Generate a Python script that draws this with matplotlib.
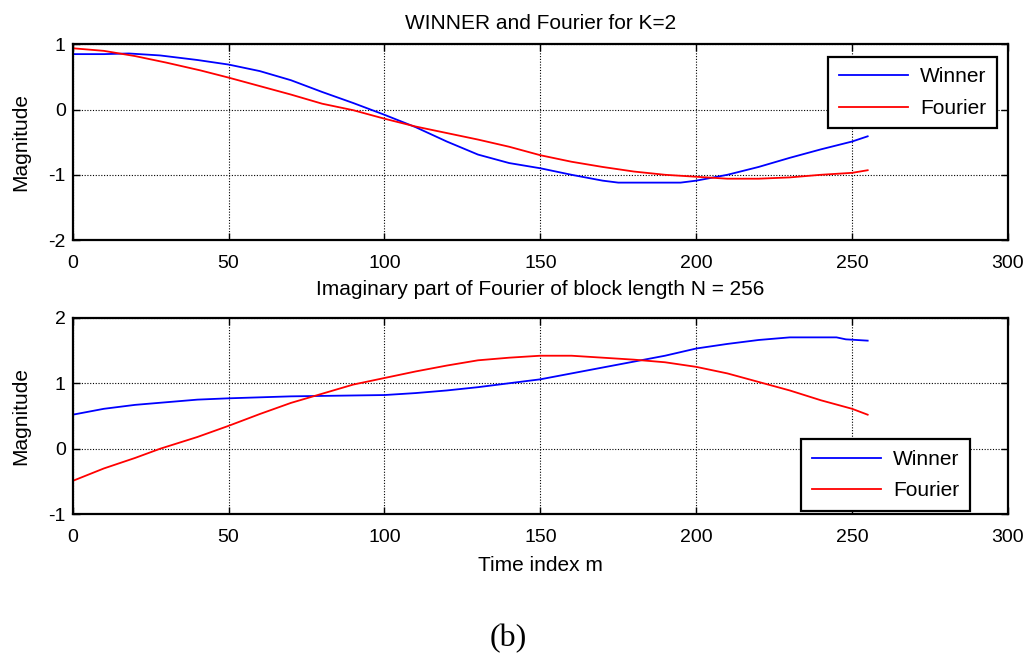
import matplotlib
matplotlib.use("Agg")
import matplotlib.pyplot as plt

# ---- data ----
top_winner_x = [0, 10, 18, 28, 40, 50, 60, 70, 80, 90, 100, 110, 120, 130, 140, 150,
                160, 170, 175, 195, 200, 210, 220, 230, 240, 250, 255]
top_winner_y = [0.85, 0.85, 0.86, 0.83, 0.76, 0.69, 0.59, 0.45, 0.27, 0.10, -0.08, -0.27,
                -0.49, -0.69, -0.82, -0.90, -1.00, -1.09, -1.12, -1.12, -1.09, -1.00,
                -0.88, -0.74, -0.61, -0.49, -0.41]

top_fourier_x = [0, 10, 20, 30, 41, 50, 60, 70, 80, 90, 100, 110, 120, 130, 140, 150,
                 160, 170, 180, 190, 200, 210, 220, 230, 240, 250, 255]
top_fourier_y = [0.94, 0.90, 0.82, 0.72, 0.60, 0.49, 0.36, 0.23, 0.09, -0.01, -0.14,
                 -0.26, -0.36, -0.46, -0.57, -0.70, -0.80, -0.88, -0.95, -1.00, -1.03,
                 -1.06, -1.06, -1.04, -1.00, -0.97, -0.93]

bot_winner_x = [0, 10, 20, 30, 40, 50, 70, 100, 110, 120, 130, 140, 150, 160, 170, 180,
                190, 200, 210, 220, 230, 245, 248, 255]
bot_winner_y = [0.52, 0.61, 0.67, 0.71, 0.75, 0.77, 0.80, 0.82, 0.85, 0.89, 0.94, 1.00,
                1.06, 1.15, 1.24, 1.33, 1.42, 1.53, 1.60, 1.66, 1.70, 1.70, 1.67, 1.65]

bot_fourier_x = [0, 10, 20, 28, 40, 50, 60, 70, 80, 90, 100, 110, 120, 130, 140, 150,
                 160, 170, 180, 190, 200, 210, 220, 230, 240, 250, 255]
bot_fourier_y = [-0.49, -0.30, -0.14, 0.00, 0.18, 0.35, 0.53, 0.70, 0.84, 0.98, 1.08,
                 1.18, 1.27, 1.35, 1.39, 1.42, 1.42, 1.39, 1.36, 1.32, 1.25, 1.15, 1.02,
                 0.89, 0.74, 0.61, 0.52]

x_ticks = [0, 50, 100, 150, 200, 250, 300]
top_y_ticks = [-2, -1, 0, 1]
bot_y_ticks = [-1, 0, 1, 2]
labels = ["Winner", "Fourier"]

plt.rcParams['font.family'] = ['Liberation Sans', 'DejaVu Sans']
plt.rcParams['font.size'] = 15
plt.rcParams['axes.unicode_minus'] = False

fig = plt.figure(figsize=(10.30, 6.54), dpi=100)
ax1 = fig.add_axes([0.0706, 0.633, 0.908, 0.2992])
ax2 = fig.add_axes([0.0706, 0.2136, 0.908, 0.3006])


def style(ax, yticks):
    ax.set_xlim(0, 300)
    ax.set_ylim(yticks[0], yticks[-1])
    ax.set_xticks(x_ticks)
    ax.set_yticks(yticks)
    ax.grid(True, color='black', linestyle=(0, (1, 1.5)), linewidth=0.8)
    ax.tick_params(direction='in', length=5, width=1, top=True, right=True,
                   labelsize=14, colors='black')
    ax.tick_params(axis='x', pad=10.5)
    ax.tick_params(axis='y', pad=5)
    for s in ax.spines.values():
        s.set_linewidth(1.6)
        s.set_color('black')
    ax.set_ylabel("Magnitude", fontsize=15, labelpad=13)


def legend(ax, loc, anchor):
    leg = ax.legend(loc=loc, bbox_to_anchor=anchor, fontsize=15, borderaxespad=0,
                    handlelength=3.35, handletextpad=0.55, labelspacing=0.6,
                    borderpad=0.5, fancybox=False, framealpha=1, edgecolor='black')
    leg.get_frame().set_linewidth(1.6)
    return leg


ax1.plot(top_winner_x, top_winner_y, color='#0000ff', lw=1.3, label=labels[0])
ax1.plot(top_fourier_x, top_fourier_y, color='#ff0000', lw=1.3, label=labels[1])
style(ax1, top_y_ticks)
ax1.set_title("WINNER and Fourier for K=2", fontsize=15, pad=11)
legend(ax1, 'upper right', (0.988, 0.935))

ax2.plot(bot_winner_x, bot_winner_y, color='#0000ff', lw=1.3, label=labels[0])
ax2.plot(bot_fourier_x, bot_fourier_y, color='#ff0000', lw=1.3, label=labels[1])
style(ax2, bot_y_ticks)
ax2.set_title("Imaginary part of Fourier of block length N = 256", fontsize=15, pad=16)
ax2.set_xlabel("Time index m", fontsize=15, labelpad=7)
legend(ax2, 'lower right', (0.959, 0.018))

fig.text(0.4932, 0.024, "(b)", ha='center', va='center', fontsize=23,
         family=['Liberation Serif', 'DejaVu Serif'])

fig.savefig("out.png", dpi=100)
